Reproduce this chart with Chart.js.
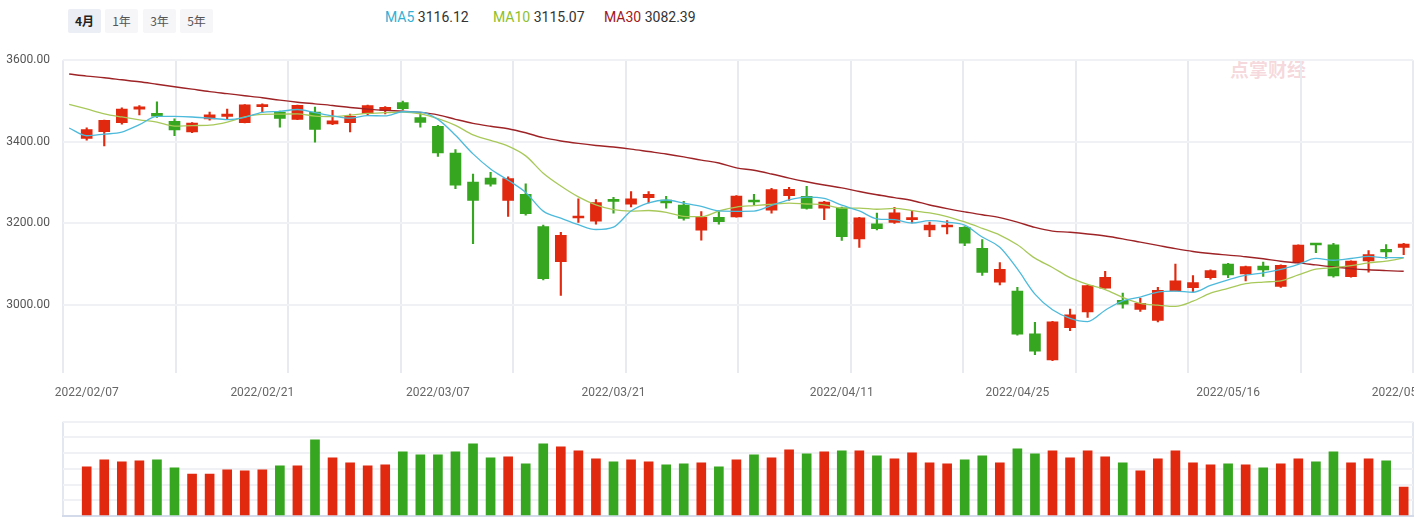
<!DOCTYPE html>
<html>
<head>
<meta charset="utf-8">
<script src="https://cdn.jsdelivr.net/npm/chart.js@4/dist/chart.umd.min.js"></script>
<style>
  body { margin: 0; background: #fff; width: 1419px; height: 518px; overflow: hidden; position: relative;
         font-family: "Noto Sans CJK SC", "Noto Sans", sans-serif; }
  #tabs { position: absolute; left: 68px; top: 9px; }
  #tabs span { position: absolute; top: 0; width: 33px; height: 24px; line-height: 24px; text-align: center;
               font-size: 12px; color: #555; background: #f6f6f8; border-radius: 2px; }
  #tabs span.on { background: #eceef6; color: #222; font-weight: bold; }
  #legend span { position: absolute; top: 9px; font-size: 14px; color: #333; white-space: nowrap; font-family: Roboto, "Noto Sans", sans-serif; }
  #mark { position: absolute; left: 1230px; top: 55px; font-size: 19px; font-weight: bold; color: rgba(226, 120, 132, 0.28); }
  #kbox { position: absolute; left: 0; top: 40px; width: 1414px; height: 365px; }
  #vbox { position: absolute; left: 0; top: 414px; width: 1419px; height: 104px; }
</style>
</head>
<body>
<div id="tabs">
  <span class="on" style="left:0">4月</span>
  <span style="left:37px">1年</span>
  <span style="left:75px">3年</span>
  <span style="left:112px">5年</span>
</div>
<div id="legend"></div>
<div id="mark">点掌财经</div>
<div id="kbox"><canvas id="kline"></canvas></div>
<div id="vbox"><canvas id="volume"></canvas></div>

<script>
// 交易日 (2022/02/07 - 2022/05/30)
const dates = [
  '2022/02/07','2022/02/08','2022/02/09','2022/02/10','2022/02/11','2022/02/14','2022/02/15','2022/02/16',
  '2022/02/17','2022/02/18','2022/02/21','2022/02/22','2022/02/23','2022/02/24','2022/02/25','2022/02/28',
  '2022/03/01','2022/03/02','2022/03/03','2022/03/04','2022/03/07','2022/03/08','2022/03/09','2022/03/10',
  '2022/03/11','2022/03/14','2022/03/15','2022/03/16','2022/03/17','2022/03/18','2022/03/21','2022/03/22',
  '2022/03/23','2022/03/24','2022/03/25','2022/03/28','2022/03/29','2022/03/30','2022/03/31','2022/04/01',
  '2022/04/06','2022/04/07','2022/04/08','2022/04/11','2022/04/12','2022/04/13','2022/04/14','2022/04/15',
  '2022/04/18','2022/04/19','2022/04/20','2022/04/21','2022/04/22','2022/04/25','2022/04/26','2022/04/27',
  '2022/04/28','2022/04/29','2022/05/05','2022/05/06','2022/05/09','2022/05/10','2022/05/11','2022/05/12',
  '2022/05/13','2022/05/16','2022/05/17','2022/05/18','2022/05/19','2022/05/20','2022/05/23','2022/05/24',
  '2022/05/25','2022/05/26','2022/05/27','2022/05/30'
];
const labelDates = ['2022/02/07','2022/02/21','2022/03/07','2022/03/21','2022/04/11','2022/04/25','2022/05/16','2022/05/30'];

const open = [
  3408,3425,3447,3480,3470,3450,3424,3456,3462,3447,3486,3473,3455,3473,3444,3447,
  3469,3477,3496,3459,3438,3372,3301,3311,3256,3271,3192,3106,3213,3205,3255,3247,
  3263,3257,3245,3183,3215,3216,3257,3232,3268,3266,3237,3238,3162,3199,3202,3209,
  3184,3191,3190,3139,3056,3034,2929,2865,2944,2983,3041,3011,2989,2962,3034,3042,
  3067,3100,3076,3095,3045,3104,3149,3147,3069,3108,3136,3141
];
const high = [
  3434,3453,3483,3489,3498,3456,3447,3473,3480,3491,3493,3475,3490,3485,3477,3468,
  3490,3486,3500,3469,3440,3381,3321,3325,3314,3297,3196,3178,3260,3258,3264,3278,
  3278,3266,3254,3229,3231,3268,3271,3286,3288,3291,3254,3240,3215,3225,3239,3231,
  3203,3207,3192,3160,3104,3043,2957,2960,2990,3048,3082,3029,3016,3043,3100,3072,
  3086,3102,3095,3105,3098,3147,3150,3151,3108,3133,3148,3151
];
const low = [
  3404,3390,3443,3466,3460,3415,3422,3453,3454,3446,3472,3436,3454,3399,3442,3424,
  3465,3468,3478,3436,3364,3285,3150,3291,3217,3220,3061,3023,3202,3198,3225,3240,
  3250,3237,3208,3159,3198,3215,3246,3225,3256,3235,3209,3158,3141,3184,3200,3201,
  3167,3174,3145,3072,3049,2926,2878,2863,2937,2969,3041,2992,2984,2958,3034,3031,
  3063,3067,3059,3070,3043,3103,3128,3068,3068,3080,3114,3123
];
const close = [
  3429.6,3452.6,3480.0,3485.9,3463.0,3428.9,3446.1,3465.8,3468.0,3490.8,3490.6,3457.2,3489.2,3430.0,3451.4,3462.3,
  3488.8,3484.2,3481.1,3447.7,3372.9,3293.5,3256.4,3296.1,3309.8,3223.5,3064.0,3170.7,3215.0,3251.1,3253.7,3259.9,
  3271.0,3250.3,3212.2,3214.5,3203.9,3266.6,3252.2,3282.7,3283.4,3236.7,3251.9,3167.1,3213.3,3186.8,3225.6,3211.2,
  3195.5,3194.0,3151.1,3079.8,3086.9,2928.5,2886.4,2958.3,2975.5,3047.1,3067.8,3001.6,3004.1,3035.8,3058.7,3055.0,
  3084.3,3073.8,3093.7,3086.0,3097.0,3146.6,3146.9,3070.9,3107.5,3123.1,3130.2,3149.1
];

// 均线: 第一个值为前一交易日 2022/01/28
const ma5 = [
  3433.71,
  3414.80,3418.71,3423.57,3441.90,3462.20,3462.06,3460.76,3457.93,3454.36,3459.92,3472.27,3474.48,3479.14,3471.53,3463.66,3458.00,
  3464.33,3463.34,3473.57,3472.82,3454.93,3415.87,3370.31,3333.30,3305.72,3275.86,3229.95,3212.81,3196.60,3184.86,3190.90,3230.07,
  3250.14,3257.18,3249.42,3241.58,3230.39,3229.51,3229.90,3243.99,3257.78,3264.33,3261.38,3244.37,3230.49,3211.17,3208.95,3200.83,
  3206.51,3202.65,3195.50,3166.33,3141.47,3088.06,3026.54,2987.99,2967.12,2959.15,2987.00,3010.03,3019.20,3031.27,3033.60,3031.05,
  3047.59,3061.51,3073.08,3078.54,3086.94,3099.39,3114.02,3109.46,3113.76,3118.99,3115.72,3116.12
];
const ma10 = [
  3491.59,
  3480.38,3468.66,3460.83,3453.92,3447.96,3438.43,3439.74,3440.75,3448.13,3461.06,3467.17,3467.62,3468.54,3462.94,3461.79,3465.13,
  3469.41,3471.24,3472.55,3468.24,3456.46,3440.10,3416.82,3403.44,3389.27,3365.39,3322.91,3291.56,3264.95,3245.29,3233.38,3230.01,
  3231.47,3226.89,3217.14,3216.24,3230.23,3239.82,3243.54,3246.70,3249.68,3247.36,3245.44,3237.13,3237.24,3234.47,3236.64,3231.11,
  3225.44,3216.57,3203.33,3187.64,3171.15,3147.29,3114.60,3091.74,3066.73,3050.31,3037.53,3018.29,3003.60,2999.20,2996.38,3009.02,
  3028.81,3040.36,3052.18,3056.07,3058.99,3073.49,3087.76,3091.27,3096.15,3102.96,3107.56,3115.07
];
const ma30 = [
  3566,
  3561,3557,3552,3547,3541,3535,3529,3523,3518,3513,3508,3502,3497,3493,3489,3484,
  3480,3477,3475,3472,3466,3455,3445,3438,3432,3422,3410,3402,3396,3391,3387,3382,
  3376,3370,3363,3355,3348,3336,3330,3321,3311,3302,3294,3287,3278,3270,3263,3256,
  3245,3236,3228,3221,3214,3203,3190,3181,3178,3174,3169,3162,3154,3146,3138,3131,
  3126,3122,3118,3113,3107,3103,3098,3093,3089,3086,3084,3082.39
];

// 成交量 (相对高度)
const volume = [
  49,56,54,55,56,48,42,42,46,45,46,50,50,76,58,53,
  50,51,64,61,61,64,72,58,59,52,72,69,65,57,54,56,
  54,51,52,53,49,56,61,58,66,62,64,65,65,60,57,63,
  53,52,56,60,53,67,62,65,58,65,59,53,45,57,65,53,
  51,52,51,48,52,57,54,64,53,57,55,29
];

const yTicks = [3000, 3200, 3400, 3600];

const RED = '#e0290e';
const GREEN = '#36a51f';
const colors = open.map((o, i) => close[i] >= o ? RED : GREEN);

// 图例
const legendItems = [
  { name: 'MA5', color: '#33afd4', value: ma5[ma5.length - 1], left: 385 },
  { name: 'MA10', color: '#8dbf2e', value: ma10[ma10.length - 1], left: 493 },
  { name: 'MA30', color: '#a3171b', value: ma30[ma30.length - 1], left: 604 },
];
document.getElementById('legend').innerHTML = legendItems.map(it =>
  `<span style="left:${it.left}px"><span style="position:static;color:${it.color}">${it.name}</span> ${it.value.toFixed(2)}</span>`
).join('');

Chart.defaults.font.family = 'Roboto, "Noto Sans", sans-serif';

const xMin = -1.35, xMax = 75.53;
const gridTicks = [];
for (let k = 0; k <= 12; k++) gridTicks.push(xMin + k * (xMax - xMin) / 12);
const labelIdx = labelDates.map(d => dates.indexOf(d));

const maLine = (label, arr, color, width) => ({
  type: 'line',
  label: label,
  data: arr.map((v, i) => ({ x: i - 1, y: v })),
  borderColor: color,
  borderWidth: width,
  pointRadius: 0,
  cubicInterpolationMode: 'monotone',
  order: 0,
});

new Chart(document.getElementById('kline'), {
  type: 'bar',
  data: {
    datasets: [
      maLine('MA5', ma5, '#4dbadb', 1.3),
      maLine('MA10', ma10, '#a8c95a', 1.3),
      maLine('MA30', ma30, '#9e2326', 1.4),
      {
        label: 'wick',
        data: dates.map((d, i) => ({ x: i, y: [low[i], high[i]] })),
        backgroundColor: colors,
        barThickness: 1.5,
        minBarLength: 1,
        order: 2,
      },
      {
        label: 'body',
        data: dates.map((d, i) => ({ x: i, y: [open[i], close[i]] })),
        backgroundColor: colors,
        barThickness: 11,
        minBarLength: 2,
        order: 1,
      },
    ],
  },
  options: {
    responsive: true,
    maintainAspectRatio: false,
    animation: false,
    layout: { padding: { top: 6, right: 1, left: 0, bottom: 0 } },
    plugins: { legend: { display: false }, tooltip: { enabled: false } },
    scales: {
      x: {
        type: 'linear',
        min: xMin,
        max: xMax,
        stacked: true,
        offset: false,
        afterBuildTicks: s => {
          s.ticks = gridTicks.map(v => ({ value: v, grid: true }))
            .concat(labelIdx.map(v => ({ value: v })))
            .sort((a, b) => a.value - b.value);
        },
        afterFit: s => { s.height = 32; s.paddingLeft = 0; s.paddingRight = 0; },
        grid: {
          offset: false,
          color: c => (c.tick && c.tick.grid ? '#e7eaf1' : 'rgba(0,0,0,0)'),
          lineWidth: 2,
          drawTicks: false,
        },
        border: { display: false },
        ticks: {
          autoSkip: false,
          maxRotation: 0,
          padding: 13,
          color: '#666',
          font: { size: 12 },
          callback: (v, i, t) => (t[i].grid ? '' : dates[v]),
        },
      },
      y: {
        min: 2833,
        max: 3600,
        stacked: false,
        afterBuildTicks: s => { s.ticks = yTicks.map(v => ({ value: v })); },
        afterFit: s => { s.width = 63; },
        grid: { color: '#f0f1f4', lineWidth: 2, drawTicks: false },
        border: { display: false },
        ticks: { padding: 13, color: '#555', font: { size: 12 }, callback: v => v.toFixed(2) },
      },
    },
  },
});

const volStep = 15.7;
new Chart(document.getElementById('volume'), {
  type: 'bar',
  data: {
    datasets: [{
      label: 'volume',
      data: volume.map((v, i) => ({ x: i, y: v })),
      backgroundColor: colors,
      barThickness: 9,
    }],
  },
  options: {
    responsive: true,
    maintainAspectRatio: false,
    animation: false,
    layout: { padding: { top: 7.7, right: 6, left: 0, bottom: 2 } },
    plugins: { legend: { display: false }, tooltip: { enabled: false } },
    scales: {
      x: {
        type: 'linear',
        min: xMin,
        max: xMax,
        offset: false,
        afterBuildTicks: s => { s.ticks = [{ value: xMin }, { value: xMax }]; },
        afterFit: s => { s.height = 0; s.paddingLeft = 0; s.paddingRight = 0; },
        ticks: { display: false },
        grid: { offset: false, color: '#e3e7ef', lineWidth: 2, drawTicks: false },
        border: { color: '#d3dbea', width: 2 },
      },
      y: {
        min: 0,
        max: volStep * 6,
        afterBuildTicks: s => {
          const t = [];
          for (let k = 0; k <= 6; k++) t.push({ value: k * volStep });
          s.ticks = t;
        },
        afterFit: s => { s.width = 63; },
        ticks: { display: false },
        grid: { color: '#f0f1f4', lineWidth: 2, drawTicks: false },
        border: { display: false },
      },
    },
  },
});
</script>
</body>
</html>
